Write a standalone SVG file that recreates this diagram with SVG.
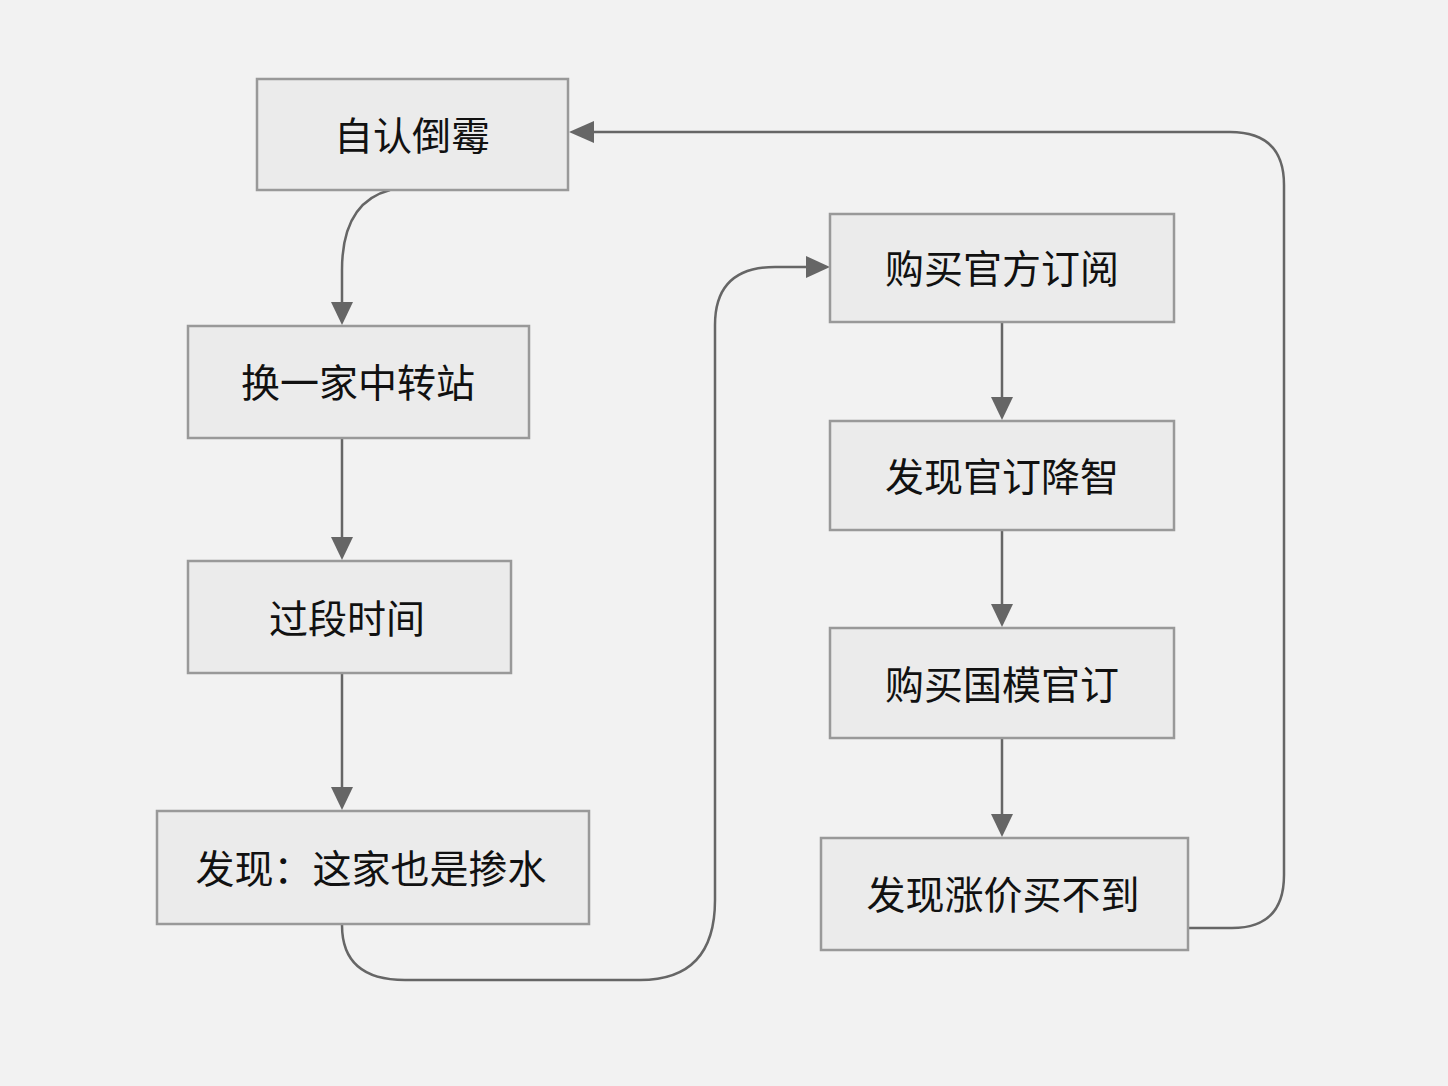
<svg xmlns="http://www.w3.org/2000/svg" width="1448" height="1086" viewBox="0 0 1448 1086">
<style>
.box{fill:#ebebeb;stroke:#999;stroke-width:2.5}
.lbl{font-family:"Noto Sans CJK SC","Noto Sans",sans-serif;font-size:39px;fill:#111;text-anchor:middle;dominant-baseline:central}
.edge{fill:none;stroke:#666;stroke-width:2.5}
.head{fill:#666}
</style>
<rect width="1448" height="1086" fill="#f2f2f2"/>
<g id="edges">
<path class="edge" d="M390,190 C352,200 342,235 342,270 L342,302"/>
<path class="edge" d="M342,438 L342,537"/>
<path class="edge" d="M342,673 L342,787"/>
<path class="edge" d="M342,924 L342,925 Q342,980 405,980 L640,980 Q715,980 715,900 L715,325 Q715,267 775,267 L806,267"/>
<path class="edge" d="M1002,322 L1002,397"/>
<path class="edge" d="M1002,530 L1002,604"/>
<path class="edge" d="M1002,738 L1002,814"/>
<path class="edge" d="M1188,928 L1232,928 Q1284,928 1284,875 L1284,185 Q1284,132 1230,132 L594,132"/>
<path class="head" d="M331,302 L353,302 L342,325 Z"/>
<path class="head" d="M331,537 L353,537 L342,560 Z"/>
<path class="head" d="M331,787 L353,787 L342,810 Z"/>
<path class="head" d="M806,256 L806,278 L830,267 Z"/>
<path class="head" d="M991,397 L1013,397 L1002,420 Z"/>
<path class="head" d="M991,604 L1013,604 L1002,627 Z"/>
<path class="head" d="M991,814 L1013,814 L1002,837 Z"/>
<path class="head" d="M594,121 L594,143 L569,132 Z"/>
</g>
<g id="n1"><rect class="box" x="257" y="79" width="311" height="111"/><text class="lbl" x="412" y="133">自认倒霉</text></g>
<g id="n2"><rect class="box" x="188" y="326" width="341" height="112"/><text class="lbl" x="358" y="380">换一家中转站</text></g>
<g id="n3"><rect class="box" x="188" y="561" width="323" height="112"/><text class="lbl" x="347" y="616">过段时间</text></g>
<g id="n4"><rect class="box" x="157" y="811" width="432" height="113"/><text class="lbl" x="371" y="866">发现：这家也是掺水</text></g>
<g id="n5"><rect class="box" x="830" y="214" width="344" height="108"/><text class="lbl" x="1002" y="266">购买官方订阅</text></g>
<g id="n6"><rect class="box" x="830" y="421" width="344" height="109"/><text class="lbl" x="1002" y="474">发现官订降智</text></g>
<g id="n7"><rect class="box" x="830" y="628" width="344" height="110"/><text class="lbl" x="1002" y="682">购买国模官订</text></g>
<g id="n8"><rect class="box" x="821" y="838" width="367" height="112"/><text class="lbl" x="1003" y="892">发现涨价买不到</text></g>
</svg>
